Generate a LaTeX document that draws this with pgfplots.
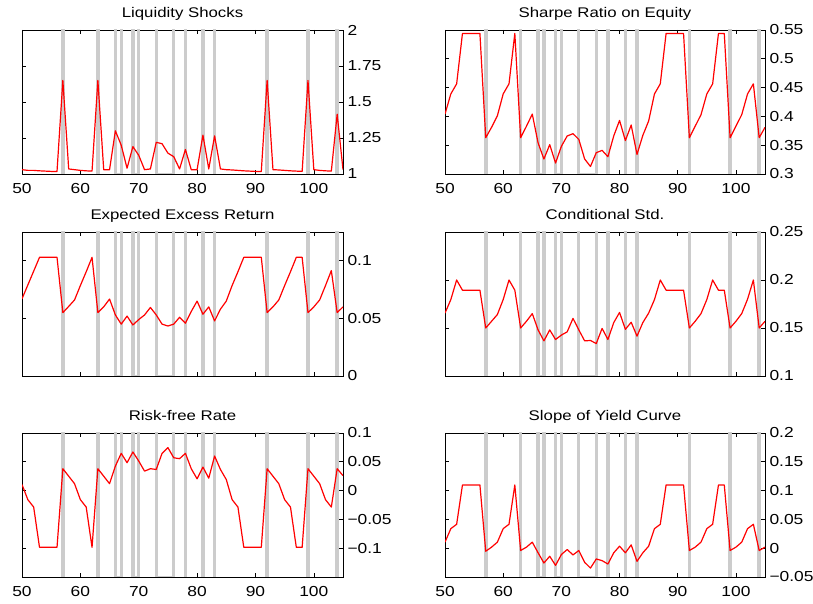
\documentclass[border=0pt]{standalone}
\usepackage{fontspec}
\setmainfont{Liberation Sans}
\newfontfamily\tickfont{Liberation Sans}[FakeStretch=1.2]
\newfontfamily\titlefont{Liberation Sans}[FakeStretch=1.2]
\usepackage{pgfplots}
\pgfplotsset{compat=1.18}

\definecolor{recgray}{RGB}{204,204,204}

\pgfplotsset{
  panel/.style={
    scale only axis, width=321pt, height=144pt,
    xmin=50, xmax=105,
    xtick={50,60,70,80,90,100},
    tick align=inside, major tick length=4pt,
    tick style={black, line width=0.6pt},
    axis line style={black, line width=0.8pt},
    yticklabel pos=right,
    tick label style={font=\tickfont\fontsize{14.5}{14.5}\selectfont},
    xticklabel style={yshift=-6pt},
    yticklabel style={xshift=1pt},
    title style={font=\titlefont\fontsize{14}{15}\selectfont, at={(0.5,1)}, anchor=base, yshift=6pt},
    anchor=south west,
  },
  rec/.style={recgray, line width=3.3pt, forget plot},
  recb/.style={recgray, line width=2.4pt, forget plot},
  ser/.style={red, line width=1.2pt, mark=none, line join=round},
}

\newcommand{\recessions}[2]{%
  \addplot[recb] coordinates {(66,#1)(67,#1)};
  \addplot[recb] coordinates {(69,#1)(70,#1)};
  \addplot[recb] coordinates {(73,#1)(76,#1)};
  \addplot[rec] coordinates {(57.05,#2)(57.05,#1)};
  \addplot[rec] coordinates {(63,#2)(63,#1)};
  \addplot[rec] coordinates {(66,#2)(66,#1)};
  \addplot[rec] coordinates {(67,#2)(67,#1)};
  \addplot[rec] coordinates {(69,#2)(69,#1)};
  \addplot[rec] coordinates {(70,#2)(70,#1)};
  \addplot[rec] coordinates {(73,#2)(73,#1)};
  \addplot[rec] coordinates {(76,#2)(76,#1)};
  \addplot[rec] coordinates {(78,#2)(78,#1)};
  \addplot[rec] coordinates {(81,#2)(81,#1)};
  \addplot[rec] coordinates {(83,#2)(83,#1)};
  \addplot[rec] coordinates {(92,#2)(92,#1)};
  \addplot[rec] coordinates {(99,#2)(99,#1)};
  \addplot[rec, line width=4.2pt] coordinates {(103.95,#2)(103.95,#1)};
}

\begin{document}
\begin{tikzpicture}
\useasboundingbox (0pt,0pt) rectangle (813pt,604pt);

% ---------- Liquidity Shocks
\begin{axis}[panel, at={(22pt,430pt)}, title={Liquidity Shocks},
  ymin=1, ymax=2, ytick={1,1.25,1.5,1.75,2},
  yticklabels={1,1.25,1.5,1.75,2},
  xticklabels={50,60,70,80,90,100}]
\recessions{1}{2.5}
\addplot[ser] coordinates {
(50,1.03)(51,1.025)(52,1.025)(53,1.022)(54,1.02)(55,1.018)(56,1.018)(57,1.65)
(58,1.035)(59,1.03)(60,1.025)(61,1.022)(62,1.02)(63,1.65)(64,1.03)(65,1.03)
(66,1.30)(67,1.20)(68,1.04)(69,1.19)(70,1.13)(71,1.03)(72,1.035)(73,1.22)
(74,1.21)(75,1.145)(76,1.12)(77,1.035)(78,1.17)(79,1.03)(80,1.03)(81,1.27)
(82,1.035)(83,1.265)(84,1.035)(85,1.03)(86,1.028)(87,1.025)(88,1.022)(89,1.02)
(90,1.018)(91,1.018)(92,1.65)(93,1.03)(94,1.028)(95,1.025)(96,1.022)(97,1.02)
(98,1.018)(99,1.65)(100,1.03)(101,1.025)(102,1.022)(103,1.02)(104,1.415)(105,1.03)};
\end{axis}

% ---------- Sharpe Ratio on Equity
\begin{axis}[panel, at={(445pt,430pt)}, width=320pt, title={Sharpe Ratio on Equity},
  ymin=0.3, ymax=0.55, ytick={0.3,0.35,0.4,0.45,0.5,0.55},
  yticklabels={0.3,0.35,0.4,0.45,0.5,0.55},
  xticklabels={50,60,70,80,90,100}]
\recessions{0.3}{0.7}
\addplot[ser] coordinates {
(50,0.404)(51,0.439)(52,0.4565)(53,0.544)(54,0.544)(55,0.544)(56,0.544)(57,0.363)
(58,0.381)(59,0.401)(60,0.439)(61,0.4565)(62,0.544)(63,0.363)(64,0.383)(65,0.404)
(66,0.354)(67,0.326)(68,0.351)(69,0.319)(70,0.348)(71,0.366)(72,0.370)(73,0.360)
(74,0.326)(75,0.313)(76,0.337)(77,0.341)(78,0.330)(79,0.366)(80,0.393)(81,0.358)
(82,0.385)(83,0.334)(84,0.367)(85,0.392)(86,0.439)(87,0.4565)(88,0.544)(89,0.544)
(90,0.544)(91,0.544)(92,0.363)(93,0.383)(94,0.403)(95,0.439)(96,0.4565)(97,0.544)
(98,0.544)(99,0.363)(100,0.383)(101,0.403)(102,0.439)(103,0.4565)(104,0.363)(105,0.381)};
\end{axis}

% ---------- Expected Excess Return
\begin{axis}[panel, at={(22pt,228pt)}, title={Expected Excess Return},
  ymin=0, ymax=0.125, ytick={0,0.05,0.1},
  yticklabels={0,0.05,0.1},
  xticklabels={}]
\recessions{0}{0.3}
\addplot[ser] coordinates {
(50,0.067)(51,0.079)(52,0.091)(53,0.103)(54,0.103)(55,0.103)(56,0.103)(57,0.055)
(58,0.0604)(59,0.066)(60,0.0785)(61,0.0905)(62,0.103)(63,0.055)(64,0.060)(65,0.0668)
(66,0.053)(67,0.045)(68,0.052)(69,0.0443)(70,0.049)(71,0.053)(72,0.0595)(73,0.053)
(74,0.045)(75,0.0434)(76,0.045)(77,0.051)(78,0.0458)(79,0.056)(80,0.065)(81,0.0536)
(82,0.060)(83,0.0478)(84,0.058)(85,0.065)(86,0.0785)(87,0.0905)(88,0.103)(89,0.103)
(90,0.103)(91,0.103)(92,0.055)(93,0.060)(94,0.066)(95,0.0785)(96,0.0905)(97,0.103)
(98,0.103)(99,0.055)(100,0.060)(101,0.066)(102,0.0785)(103,0.0915)(104,0.055)(105,0.060)};
\end{axis}

% ---------- Conditional Std.
\begin{axis}[panel, at={(445pt,228pt)}, width=320pt, title={Conditional Std.},
  ymin=0.1, ymax=0.25, ytick={0.1,0.15,0.2,0.25},
  yticklabels={0.1,0.15,0.2,0.25},
  xticklabels={}]
\recessions{0.1}{0.4}
\addplot[ser] coordinates {
(50,0.1655)(51,0.1796)(52,0.200)(53,0.1894)(54,0.1894)(55,0.1894)(56,0.1894)(57,0.150)
(58,0.157)(59,0.164)(60,0.1796)(61,0.200)(62,0.1894)(63,0.150)(64,0.157)(65,0.165)
(66,0.148)(67,0.1366)(68,0.148)(69,0.138)(70,0.1426)(71,0.146)(72,0.160)(73,0.148)
(74,0.1366)(75,0.137)(76,0.1338)(77,0.1496)(78,0.138)(79,0.1556)(80,0.1662)(81,0.1486)
(82,0.156)(83,0.1415)(84,0.1556)(85,0.1655)(86,0.1796)(87,0.200)(88,0.1894)(89,0.1894)
(90,0.1894)(91,0.1894)(92,0.150)(93,0.157)(94,0.165)(95,0.1796)(96,0.200)(97,0.1894)
(98,0.1894)(99,0.150)(100,0.157)(101,0.165)(102,0.180)(103,0.200)(104,0.150)(105,0.157)};
\end{axis}

% ---------- Risk-free Rate
\begin{axis}[panel, at={(22pt,27pt)}, title={Risk{-}free Rate},
  ymin=-0.15, ymax=0.1, ytick={-0.1,-0.05,0,0.05,0.1},
  yticklabels={−0.1,−0.05,0,0.05,0.1},
  xticklabels={50,60,70,80,90,100}]
\recessions{-0.15}{0.3}
\addplot[ser] coordinates {
(50,0.0105)(51,-0.0157)(52,-0.0286)(53,-0.0985)(54,-0.0985)(55,-0.0985)(56,-0.0985)(57,0.038)
(58,0.025)(59,0.012)(60,-0.0157)(61,-0.0286)(62,-0.0985)(63,0.038)(64,0.025)(65,0.012)
(66,0.0425)(67,0.0647)(68,0.0484)(69,0.067)(70,0.0513)(71,0.0338)(72,0.038)(73,0.0367)
(74,0.0647)(75,0.0746)(76,0.057)(77,0.0554)(78,0.0647)(79,0.038)(80,0.0204)(81,0.0408)
(82,0.0216)(83,0.060)(84,0.0367)(85,0.0192)(86,-0.0157)(87,-0.0286)(88,-0.0985)(89,-0.0985)
(90,-0.0985)(91,-0.0985)(92,0.038)(93,0.025)(94,0.012)(95,-0.0157)(96,-0.0286)(97,-0.0985)
(98,-0.0985)(99,0.038)(100,0.025)(101,0.012)(102,-0.0157)(103,-0.0286)(104,0.038)(105,0.026)};
\end{axis}

% ---------- Slope of Yield Curve
\begin{axis}[panel, at={(445pt,27pt)}, width=320pt, title={Slope of Yield Curve},
  ymin=-0.05, ymax=0.2, ytick={-0.05,0,0.05,0.1,0.15,0.2},
  yticklabels={−0.05,0,0.05,0.1,0.15,0.2},
  xticklabels={50,60,70,80,90,100}]
\recessions{-0.05}{0.4}
\addplot[ser] coordinates {
(50,0.0105)(51,0.0339)(52,0.0415)(53,0.1098)(54,0.1098)(55,0.1098)(56,0.1098)(57,-0.0053)
(58,0.0018)(59,0.0105)(60,0.0339)(61,0.0415)(62,0.1098)(63,-0.004)(64,0.0018)(65,0.0105)
(66,-0.008)(67,-0.0257)(68,-0.014)(69,-0.0298)(70,-0.011)(71,-0.0023)(72,-0.0117)(73,-0.004)
(74,-0.0245)(75,-0.0345)(76,-0.0187)(77,-0.0216)(78,-0.0275)(79,-0.008)(80,0.0035)(81,-0.008)
(82,0.0058)(83,-0.0228)(84,-0.008)(85,0.0035)(86,0.0339)(87,0.0415)(88,0.1098)(89,0.1098)
(90,0.1098)(91,0.1098)(92,-0.004)(93,0.0018)(94,0.0105)(95,0.0339)(96,0.0415)(97,0.1098)
(98,0.1098)(99,-0.004)(100,0.0018)(101,0.0105)(102,0.0339)(103,0.0415)(104,-0.004)(105,0.0018)};
\end{axis}
\end{tikzpicture}
\end{document}
